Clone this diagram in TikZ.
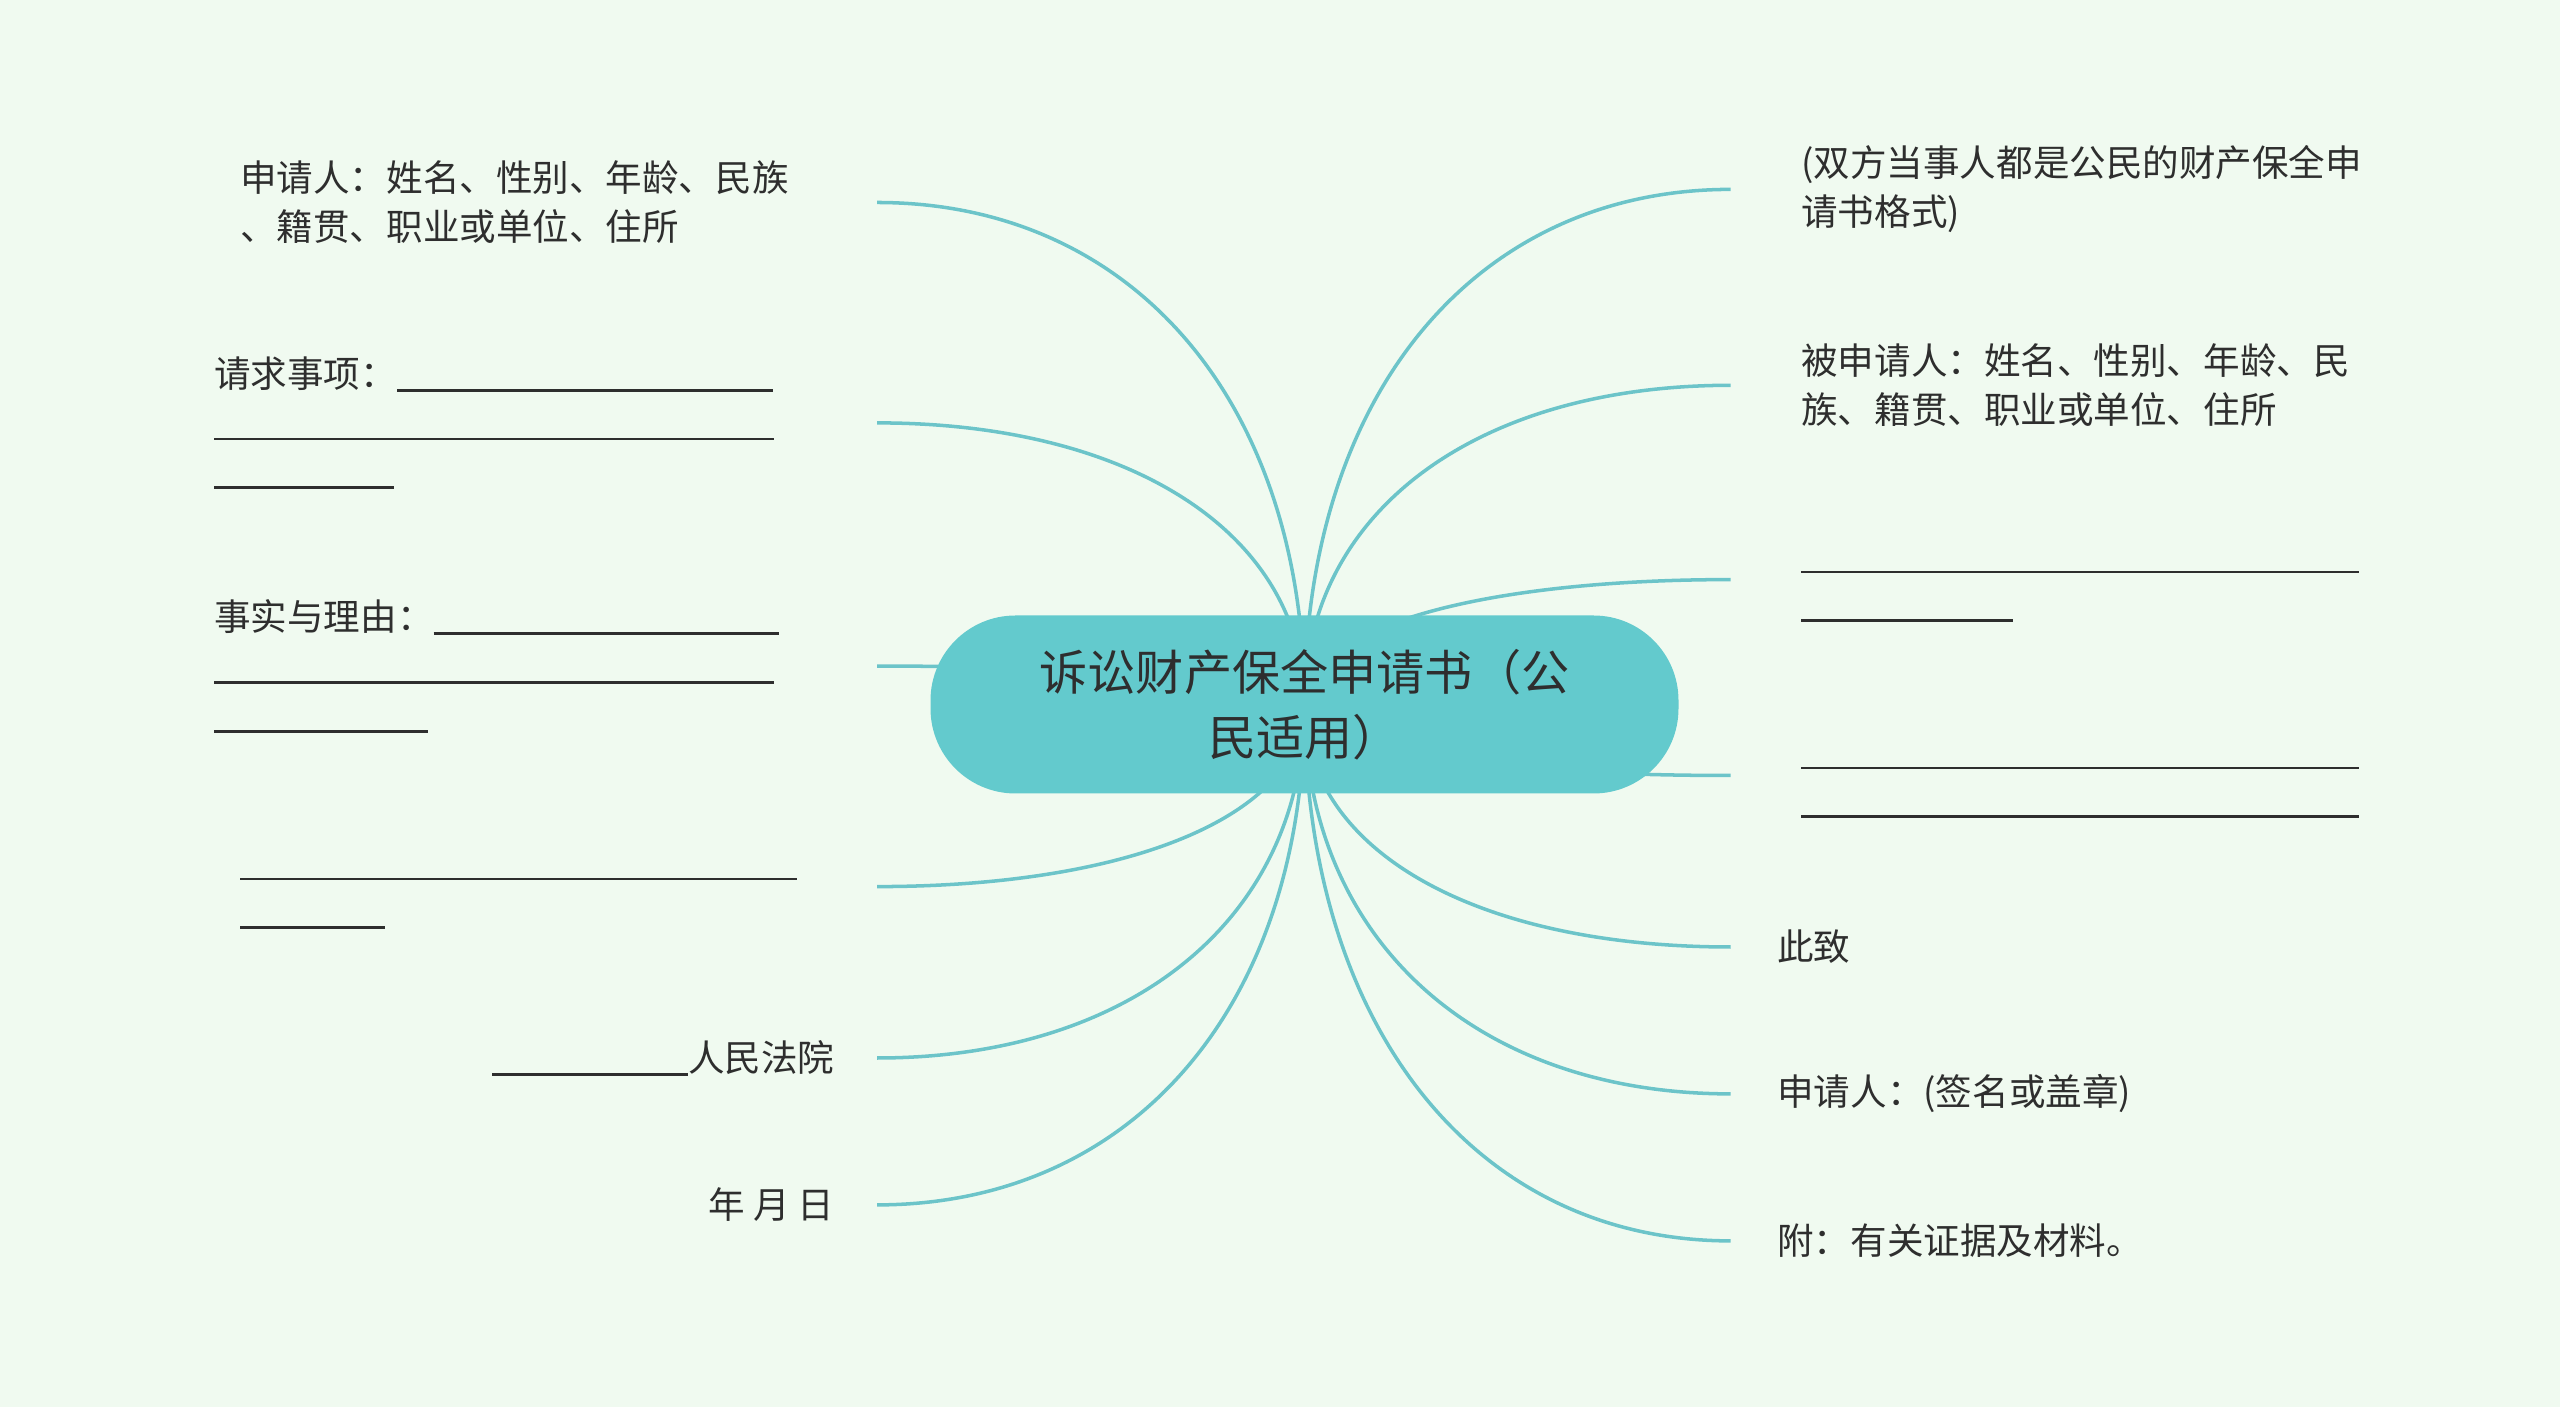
\documentclass[tikz,border=0pt]{standalone}
\usepackage{fontspec}
\newfontfamily\cjk{Noto Sans CJK SC}
\usetikzlibrary{calc,backgrounds}

\definecolor{bgcol}{HTML}{F0FAF0}
\definecolor{topiccol}{HTML}{63CACD}
\definecolor{linkcol}{HTML}{6CC4C9}
\definecolor{textcol}{HTML}{2E2E2E}
\newcommand{\blank}[1]{\rule[-0.12em]{#1}{0.8pt}}
\newcommand{\lstrut}{\rule{0pt}{0.88em}}

\begin{document}
\begin{tikzpicture}[
    leaf/.style={font=\cjk\fontsize{10.4pt}{13.9pt}\selectfont, text=textcol},
    lleaf/.style={leaf, anchor=east, inner xsep=0.42cm, align=left},
    rleaf/.style={leaf, anchor=west, inner xsep=0.46cm, align=left},
    rwide/.style={leaf, anchor=west, inner xsep=0.70cm, align=left, text width=6cm},
    topic/.style={fill=topiccol, rounded corners=0.85cm, minimum width=7.48cm,
        minimum height=1.78cm, align=center, text=textcol,
        font=\cjk\fontsize{13.7pt}{18.6pt}\selectfont},
    link/.style={draw=linkcol, line width=1pt}
]
    \useasboundingbox (0,0) rectangle (25.6,-14.07);

    \node[topic] (topic) at (13.045,-7.045) {诉讼财产保全申请书（公\\民适用）};

    % left side
    \node[lleaf, text width=5.94cm] (L1) at (8.77,-2.025) {申请人：姓名、性别、年龄、民族\\、籍贯、职业或单位、住所};
    \node[lleaf, text width=6.20cm] (L2) at (8.77,-4.229) {请求事项：\blank{3.76cm}\\\lstrut\blank{5.60cm}\\\lstrut\blank{1.80cm}};
    \node[lleaf, text width=6.20cm] (L3) at (8.77,-6.661) {事实与理由：\blank{3.45cm}\\\lstrut\blank{5.60cm}\\\lstrut\blank{2.14cm}};
    \node[lleaf, text width=5.94cm] (L4) at (8.77,-8.866) {\lstrut\blank{5.57cm}\\\lstrut\blank{1.45cm}};
    \node[lleaf] (L5) at (8.77,-10.580) {\blank{1.96cm}人民法院};
    \node[lleaf] (L6) at (8.77,-12.049) {年 月 日};

    % right side
    \node[rwide] (R1) at (17.307,-1.894) {(双方当事人都是公民的财产保全申\\请书格式)};
    \node[rwide] (R2) at (17.307,-3.853) {被申请人：姓名、性别、年龄、民\\族、籍贯、职业或单位、住所};
    \node[rwide] (R3) at (17.307,-5.796) {\lstrut\blank{5.58cm}\\\lstrut\blank{2.12cm}};
    \node[rwide] (R4) at (17.307,-7.755) {\lstrut\blank{5.58cm}\\\lstrut\blank{5.58cm}};
    \node[rleaf] (R5) at (17.307,-9.470) {此致};
    \node[rleaf] (R6) at (17.307,-10.939) {申请人：(签名或盖章)};
    \node[rleaf] (R7) at (17.307,-12.409) {附：有关证据及材料。};

    \begin{scope}[on background layer]
        \fill[bgcol] (0,0) rectangle (25.6,-14.07);
        \foreach \n in {L1,L2,L3,L4,L5,L6}
            \draw[link] (\n.east) .. controls ($(\n.east)!0.6!(\n.east -| topic.center)$)
                and ($(\n.east -| topic.center)!0.4!(topic.center)$) .. (topic.center);
        \foreach \n in {R1,R2,R3,R4,R5,R6,R7}
            \draw[link] (\n.west) .. controls ($(\n.west)!0.6!(\n.west -| topic.center)$)
                and ($(\n.west -| topic.center)!0.4!(topic.center)$) .. (topic.center);
    \end{scope}
\end{tikzpicture}
\end{document}
